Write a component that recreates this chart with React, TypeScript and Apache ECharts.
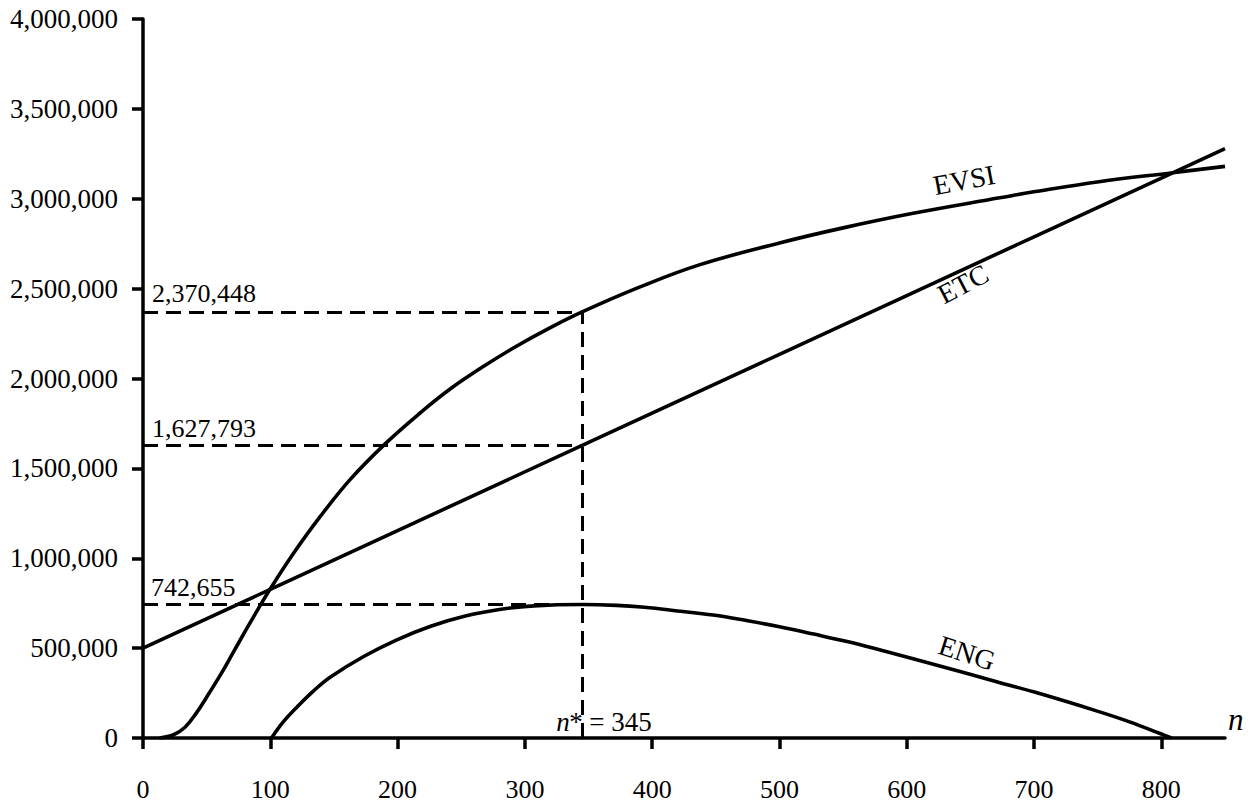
import React, { useEffect, useRef } from 'react';
import * as echarts from 'echarts';

// ---- data ----
const xTicks = [0, 100, 200, 300, 400, 500, 600, 700, 800];

const evsiN = [13, 24, 33, 42, 52, 62, 71, 80, 88, 100, 118, 139, 163, 190, 218, 241, 267, 293, 320, 345, 390, 437, 500, 550, 605, 673, 701, 751, 809, 850];
const evsiV = [0, 18000, 60000, 140000, 250000, 365000, 478000, 590000, 688000, 830000, 1025000, 1230000, 1440000, 1635000, 1810000, 1940000, 2065000, 2178000, 2283000, 2370448, 2508000, 2632000, 2754000, 2838000, 2919000, 3005000, 3040000, 3095000, 3145000, 3180000];

const etcN = [0, 100, 200, 345, 500, 600, 700, 800, 850];
const etcV = [500000, 826900, 1153800, 1627793, 2134500, 2461400, 2788300, 3115200, 3278650];

const engN = [101, 110, 121, 134, 147, 173, 199, 226, 254, 280, 307, 345, 372, 394, 420, 448, 475, 500, 527, 554, 580, 605, 644, 672, 701, 749, 775, 800, 808];
const engV = [0, 88000, 172000, 262000, 338000, 452000, 545000, 622000, 680000, 715000, 735000, 742655, 738000, 727000, 707000, 684000, 652000, 619000, 578000, 535000, 488000, 441000, 366000, 310000, 254000, 151000, 90000, 22000, 0];

const nStar = 345;
const evsiStar = 2370448;
const etcStar = 1627793;
const engStar = 742655;

const FONT = "'Liberation Serif', 'Times New Roman', serif";

const zip = (xs: number[], ys: number[]) => xs.map((x, i) => [x, ys[i]]);
const fmt = (v: number) => v.toLocaleString('en-US');

export default function App() {
  const ref = useRef<HTMLDivElement>(null);

  useEffect(() => {
    if (!ref.current) return;
    const chart = echarts.init(ref.current, null, { renderer: 'svg' });

    const dashed = { type: [15, 8] as any, width: 3, color: '#000' };
    const curve = { color: '#000', width: 3.6 };

    chart.setOption({
      animation: false,
      backgroundColor: '#fff',
      grid: { left: 143, right: 34, top: 19, bottom: 67, containLabel: false },
      xAxis: {
        type: 'value',
        min: 0,
        max: 850,
        interval: 100,
        splitLine: { show: false },
        axisLine: { show: true, lineStyle: { color: '#000', width: 3.5 } },
        axisTick: { show: true, length: 11, lineStyle: { color: '#000', width: 3.5 }, customValues: xTicks },
        axisLabel: { margin: 38, color: '#000', fontSize: 26, fontFamily: FONT, customValues: xTicks },
      },
      yAxis: {
        type: 'value',
        min: 0,
        max: 4000000,
        interval: 500000,
        splitLine: { show: false },
        axisLine: { show: true, lineStyle: { color: '#000', width: 3.5 } },
        axisTick: { show: true, length: 11, lineStyle: { color: '#000', width: 3.5 } },
        axisLabel: { margin: 25, color: '#000', fontSize: 27, fontFamily: FONT, formatter: (v: number) => fmt(v) },
      },
      series: [
        {
          name: 'EVSI',
          type: 'line',
          data: zip(evsiN, evsiV),
          showSymbol: false,
          smooth: 0.4,
          lineStyle: curve,
          silent: true,
        },
        {
          name: 'ETC',
          type: 'line',
          data: zip(etcN, etcV),
          showSymbol: false,
          lineStyle: curve,
          silent: true,
          markLine: {
            silent: true,
            symbol: ['none', 'none'],
            label: { show: false },
            lineStyle: dashed,
            data: [
              [{ coord: [0, evsiStar] }, { coord: [nStar, evsiStar] }],
              [{ coord: [0, etcStar] }, { coord: [nStar, etcStar] }],
              [{ coord: [0, engStar] }, { coord: [nStar, engStar] }],
              [{ coord: [nStar, 0] }, { coord: [nStar, evsiStar] }],
            ],
          },
        },
        {
          name: 'ENG',
          type: 'line',
          data: zip(engN, engV),
          showSymbol: false,
          smooth: 0.4,
          lineStyle: curve,
          silent: true,
        },
      ],
    });

    const px = (x: number, y: number) => chart.convertToPixel({ gridIndex: 0 }, [x, y]) as number[];
    const txt = (text: string, p: number[], size: number, align: string, rot = 0, extra: any = {}) => ({
      type: 'text',
      x: p[0],
      y: p[1],
      rotation: rot,
      silent: true,
      style: {
        text,
        fill: '#000',
        fontSize: size,
        fontFamily: FONT,
        align,
        verticalAlign: 'middle',
        textAlign: align,
        textVerticalAlign: 'middle',
        ...extra,
      },
    });

    const o = px(0, 0);
    const pE = px(0, evsiStar);
    const pC = px(0, etcStar);
    const pG = px(0, engStar);
    const pN = px(nStar, 0);
    const xEnd = px(850, 0);

    chart.setOption({
      graphic: [
        txt(fmt(evsiStar), [pE[0] + 9, pE[1] - 18], 26, 'left'),
        txt(fmt(etcStar), [pC[0] + 9, pC[1] - 17], 26, 'left'),
        txt(fmt(engStar), [pG[0] + 8, pG[1] - 17], 26, 'left'),
        txt('n', [pN[0] - 26, o[1] - 16], 27, 'left', 0, { fontStyle: 'italic' }),
        txt('*', [pN[0] - 13, o[1] - 16], 27, 'left'),
        txt('= 345', [pN[0] + 7, o[1] - 16], 27, 'left'),
        txt('n', [xEnd[0] + 3, o[1] - 19], 31, 'left', 0, { fontStyle: 'italic' }),
        txt('EVSI', [964, 180], 28, 'center', 0.19),
        txt('ETC', [963, 284], 28, 'center', 0.48),
        txt('ENG', [967, 653], 28, 'center', -0.31),
      ],
    });

    return () => chart.dispose();
  }, []);

  return (
    <div
      ref={ref}
      style={{ position: 'fixed', left: 0, top: 0, width: 1259, height: 805, background: '#fff' }}
    />
  );
}
